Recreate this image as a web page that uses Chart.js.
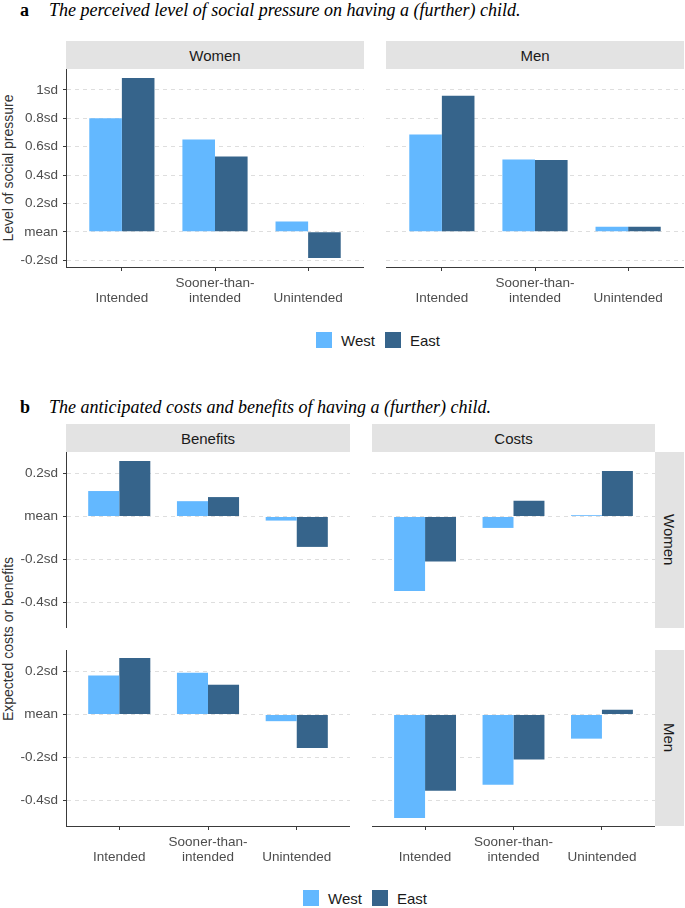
<!DOCTYPE html>
<html lang="en">
<head>
<meta charset="UTF-8">
<title>Social pressure, costs and benefits</title>
<style>
  body { margin: 0; background: #fff; font-family: "Liberation Sans", Arial, sans-serif; }
  #page { position: relative; width: 685px; height: 908px; overflow: hidden; }
  #page canvas { position: absolute; }
  .title { position: absolute; left: 20px; font-family: "Liberation Serif", "Times New Roman", serif; font-size: 18px; line-height: 20px; white-space: nowrap; color: #000; }
  .title b { display: inline-block; width: 29px; }
  .strip { position: absolute; background: #e3e3e3; color: #1a1a1a; font-size: 15px; display: flex; align-items: center; justify-content: center; }
  .strip.v span { writing-mode: vertical-rl; }
  .ytitle { position: absolute; width: 260px; height: 16px; line-height: 16px; text-align: center; font-size: 14px; color: #333; transform: rotate(-90deg); white-space: nowrap; }
  .legend { position: absolute; display: flex; align-items: center; font-size: 15px; color: #1a1a1a; height: 20px; }
  .legend i { display: inline-block; width: 16px; height: 16px; margin-right: 9px; }
  .legend span { margin-right: 10px; }
</style>
<script src="https://cdn.jsdelivr.net/npm/chart.js"></script>
</head>
<body>
<div id="page">
  <div class="title" style="top:0px"><b>a</b><i>The perceived level of social pressure on having a (further) child.</i></div>
  <div class="strip" style="left:66px;top:41px;width:298px;height:28px">Women</div>
  <div class="strip" style="left:386px;top:41px;width:298px;height:28px">Men</div>
  <div class="ytitle" style="left:-122px;top:160px">Level of social pressure</div>
  <div class="legend" style="left:316px;top:330px">
    <i style="background:#63b8ff"></i><span>West</span><i style="background:#36648b"></i><span>East</span>
  </div>

  <div class="title" style="top:397px"><b>b</b><i>The anticipated costs and benefits of having a (further) child.</i></div>
  <div class="strip" style="left:66px;top:424px;width:284px;height:28px">Benefits</div>
  <div class="strip" style="left:372px;top:424px;width:283px;height:28px">Costs</div>
  <div class="strip v" style="left:655px;top:452px;width:29px;height:176px"><span>Women</span></div>
  <div class="strip v" style="left:655px;top:650px;width:29px;height:176px"><span>Men</span></div>
  <div class="ytitle" style="left:-122px;top:631px">Expected costs or benefits</div>
  <div class="legend" style="left:303px;top:888px">
    <i style="background:#63b8ff"></i><span>West</span><i style="background:#36648b"></i><span>East</span>
  </div>
</div>

<script>
  // categories and tick labels
  const categories = ['Intended', 'Sooner-than-intended', 'Unintended'];
  const xTickLabels = [['', 'Intended'], ['Sooner-than-', 'intended'], ['', 'Unintended']];

  const aTicks = [-0.2, 0, 0.2, 0.4, 0.6, 0.8, 1];
  const aTickLabels = ['-0.2sd', 'mean', '0.2sd', '0.4sd', '0.6sd', '0.8sd', '1sd'];
  const bTicks = [-0.4, -0.2, 0, 0.2];
  const bTickLabels = ['-0.4sd', '-0.2sd', 'mean', '0.2sd'];

  // a: perceived social pressure
  const pressureWomenWest = [0.80, 0.65, 0.073];
  const pressureWomenEast = [1.084, 0.53, -0.185];
  const pressureMenWest = [0.686, 0.51, 0.035];
  const pressureMenEast = [0.958, 0.506, 0.035];

  // b: anticipated benefits and costs
  const benefitsWomenWest = [0.118, 0.071, -0.019];
  const benefitsWomenEast = [0.257, 0.09, -0.141];
  const costsWomenWest = [-0.346, -0.053, 0.006];
  const costsWomenEast = [-0.209, 0.073, 0.211];
  const benefitsMenWest = [0.181, 0.194, -0.031];
  const benefitsMenEast = [0.262, 0.138, -0.155];
  const costsMenWest = [-0.48, -0.326, -0.112];
  const costsMenEast = [-0.353, -0.209, 0.022];

  const WEST = '#63b8ff';
  const EAST = '#36648b';
  const AXIS = '#3a3a3a';
  const GRID = '#dedede';
  const TICK_FONT = { family: 'Liberation Sans', size: 13.5, lineHeight: 1.1 };

  const page = document.getElementById('page');

  function makePanel(p) {
    const canvas = document.createElement('canvas');
    canvas.width = p.w;
    canvas.height = p.h;
    canvas.style.left = p.x + 'px';
    canvas.style.top = p.y + 'px';
    page.appendChild(canvas);

    new Chart(canvas, {
      type: 'bar',
      data: {
        datasets: [
          { label: 'West', data: p.west.map((v, i) => ({ x: i + 1, y: v })), backgroundColor: WEST },
          { label: 'East', data: p.east.map((v, i) => ({ x: i + 1, y: v })), backgroundColor: EAST }
        ]
      },
      options: {
        responsive: false,
        animation: false,
        events: [],
        categoryPercentage: 0.7,
        barPercentage: 1,
        layout: { padding: 0 },
        plugins: { legend: { display: false }, tooltip: { enabled: false } },
        scales: {
          x: {
            type: 'linear',
            min: 0.4,
            max: 3.6,
            offset: false,
            display: p.showX,
            afterBuildTicks: s => { s.ticks = categories.map((c, i) => ({ value: i + 1 })); },
            afterFit: s => { s.height = p.showX ? 44 : 0; s.paddingLeft = 0; s.paddingRight = 0; },
            grid: { drawOnChartArea: false, drawTicks: true, tickLength: 4, tickColor: AXIS, offset: false },
            border: { display: true, color: AXIS, width: 1 },
            ticks: {
              autoSkip: false,
              maxRotation: 0,
              padding: 5,
              color: '#4d4d4d',
              font: TICK_FONT,
              callback: (v, i) => xTickLabels[i]
            }
          },
          y: {
            min: p.min,
            max: p.max,
            afterBuildTicks: s => { s.ticks = p.ticks.map(v => ({ value: v })); },
            afterFit: s => { s.width = p.showY ? 66 : 0; s.paddingTop = 0; s.paddingBottom = 0; },
            grid: { color: GRID, lineWidth: 1, drawTicks: p.showY, tickLength: 3, tickColor: AXIS },
            border: { display: p.showY, color: AXIS, width: 1, dash: [4, 4] },
            ticks: {
              display: p.showY,
              autoSkip: false,
              padding: 5,
              color: '#4d4d4d',
              font: TICK_FONT,
              callback: v => p.labels[p.ticks.indexOf(v)]
            }
          }
        }
      }
    });
  }

  // panel a
  const aRange = { min: -0.248, max: 1.147, ticks: aTicks, labels: aTickLabels };
  makePanel(Object.assign({ x: 0, y: 69, w: 364, h: 242, showX: true, showY: true, west: pressureWomenWest, east: pressureWomenEast }, aRange));
  makePanel(Object.assign({ x: 386, y: 69, w: 298, h: 242, showX: true, showY: false, west: pressureMenWest, east: pressureMenEast }, aRange));

  // panel b
  const bRange = { min: -0.517, max: 0.299, ticks: bTicks, labels: bTickLabels };
  makePanel(Object.assign({ x: 0, y: 452, w: 350, h: 176, showX: false, showY: true, west: benefitsWomenWest, east: benefitsWomenEast }, bRange));
  makePanel(Object.assign({ x: 372, y: 452, w: 283, h: 176, showX: false, showY: false, west: costsWomenWest, east: costsWomenEast }, bRange));
  makePanel(Object.assign({ x: 0, y: 650, w: 350, h: 220, showX: true, showY: true, west: benefitsMenWest, east: benefitsMenEast }, bRange));
  makePanel(Object.assign({ x: 372, y: 650, w: 283, h: 220, showX: true, showY: false, west: costsMenWest, east: costsMenEast }, bRange));
</script>
</body>
</html>
